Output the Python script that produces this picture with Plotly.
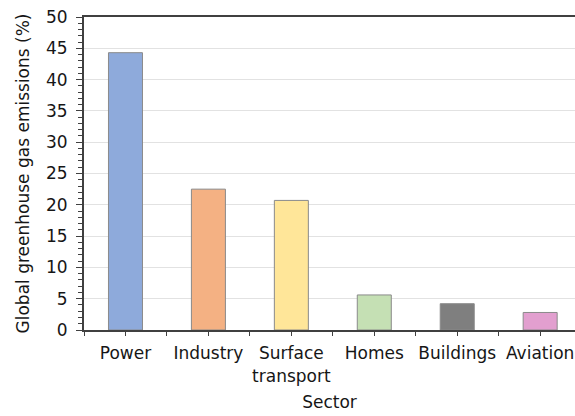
import plotly.graph_objects as go

sectors = ["Power", "Industry", "Surface<br>transport", "Homes", "Buildings", "Aviation"]
emissions = [44.3, 22.5, 20.7, 5.6, 4.2, 2.8]
bar_colors = ["#8eaadb", "#f4b183", "#ffe699", "#c5e0b4", "#7f7f7f", "#e29fcf"]
y_ticks = [0, 5, 10, 15, 20, 25, 30, 35, 40, 45, 50]

positions = list(range(len(sectors)))
font = "DejaVu Sans"
txt = "#161616"

fig = go.Figure(go.Bar(
    x=positions, y=emissions, width=0.41,
    marker=dict(color=bar_colors, line=dict(color="#8a8a8a", width=1)),
))

fig.update_layout(
    width=575, height=416,
    margin=dict(l=84, r=0, t=17, b=86),
    paper_bgcolor="white", plot_bgcolor="white",
    font=dict(family=font, size=17, color=txt),
    showlegend=False,
    xaxis=dict(
        range=[-0.5, 5.42],
        tickmode="array", tickvals=positions, ticktext=sectors,
        ticks="outside", ticklen=4, tickcolor="#404040", tickwidth=1,
        minor=dict(ticks="outside", ticklen=4, tick0=0.5, dtick=1, tickcolor="#404040", showgrid=False),
        showline=True, linecolor="#404040", linewidth=2, mirror=True,
        showgrid=False, zeroline=False,
        ticklabelstandoff=3,
        tickfont=dict(family=font, size=17, color=txt),
        title=dict(text="Sector", font=dict(family=font, size=17, color=txt), standoff=12),
    ),
    yaxis=dict(
        range=[0, 50],
        tickmode="array", tickvals=y_ticks,
        ticks="outside", ticklen=6, tickcolor="#404040", tickwidth=1,
        minor=dict(ticks="outside", ticklen=4, dtick=1, tickcolor="#404040", showgrid=False),
        showline=True, linecolor="#404040", linewidth=2,
        showgrid=True, gridcolor="#e2e2e2", gridwidth=1, zeroline=False,
        ticklabelstandoff=5,
        tickfont=dict(family=font, size=17, color=txt),
        title=dict(text="Global greenhouse gas emissions (%)", font=dict(family=font, size=17, color=txt), standoff=12),
    ),
)

fig.write_html("out.html")
